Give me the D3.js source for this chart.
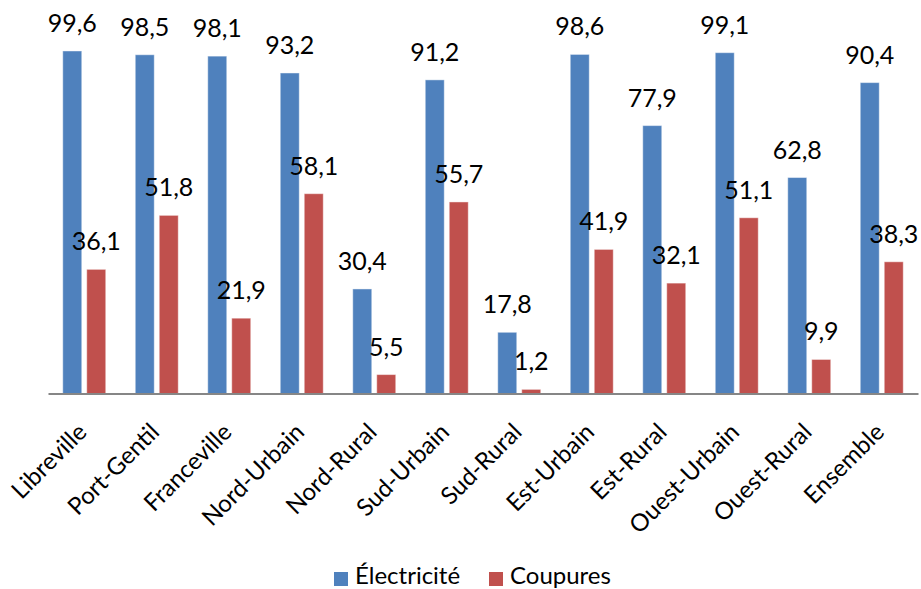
<!DOCTYPE html>
<html>
<head>
<meta charset="utf-8">
<script src="https://cdn.jsdelivr.net/npm/d3@7"></script>
<style>
  html, body { margin: 0; padding: 0; background: #fff; }
  svg { display: block; font-family: Lato, "Open Sans", sans-serif; }
</style>
</head>
<body>
<svg id="chart" width="921" height="589"></svg>
<script>
// Taux d'accès à l'électricité et part des ménages subissant des coupures (%)
const categories = ["Libreville", "Port-Gentil", "Franceville", "Nord-Urbain", "Nord-Rural",
  "Sud-Urbain", "Sud-Rural", "Est-Urbain", "Est-Rural", "Ouest-Urbain", "Ouest-Rural", "Ensemble"];
const electricite = [99.6, 98.5, 98.1, 93.2, 30.4, 91.2, 17.8, 98.6, 77.9, 99.1, 62.8, 90.4];
const coupures = [36.1, 51.8, 21.9, 58.1, 5.5, 55.7, 1.2, 41.9, 32.1, 51.1, 9.9, 38.3];
const seriesNames = ["Électricité", "Coupures"];
const seriesColors = ["#4F81BD", "#C0504D"];
const seriesValues = [electricite, coupures];

const svg = d3.select("#chart");
const plotLeft = 48, plotRight = 918, plotBase = 393.5, plotTop = 49.6;

const x0 = d3.scaleBand().domain(categories).range([plotLeft, plotRight]).paddingInner(0.407).paddingOuter(0.2035);
const x1 = d3.scaleBand().domain(seriesNames).range([0, x0.bandwidth()]).paddingInner(0.208);
const y = d3.scaleLinear().domain([0, 100]).range([plotBase, plotTop]);

const fmt = v => d3.format(".1f")(v).replace(".", ",");

const groups = svg.append("g").selectAll("g")
  .data(categories)
  .join("g")
  .attr("transform", d => `translate(${x0(d)},0)`);

seriesNames.forEach((name, si) => {
  groups.append("rect")
    .attr("x", x1(name))
    .attr("width", x1.bandwidth())
    .attr("y", (d, i) => y(seriesValues[si][i]))
    .attr("height", (d, i) => plotBase - y(seriesValues[si][i]))
    .attr("fill", seriesColors[si])
    .attr("stroke", "rgba(255,255,255,0.45)")
    .attr("stroke-width", 1);

  groups.append("text")
    .attr("x", x1(name) + x1.bandwidth() / 2)
    .attr("y", (d, i) => y(seriesValues[si][i]) - 19)
    .attr("text-anchor", "middle")
    .attr("font-size", 25)
    .attr("fill", "#000")
    .text((d, i) => fmt(seriesValues[si][i]));
});

// Category axis
const xAxis = svg.append("g").attr("transform", `translate(0,${plotBase})`)
  .call(d3.axisBottom(x0).tickSize(0).tickSizeOuter(0));
xAxis.select(".domain").attr("stroke", "#868686").attr("stroke-width", 2);
xAxis.selectAll(".tick text")
  .attr("font-family", "Lato, 'Open Sans', sans-serif")
  .attr("font-size", 24)
  .attr("fill", "#000")
  .attr("text-anchor", "end")
  .attr("dy", 0)
  .attr("y", 0)
  .attr("transform", "translate(4,40) rotate(-45)");

// Legend
const legend = svg.append("g");
const legendItems = [
  { name: seriesNames[0], color: seriesColors[0], sx: 334, tx: 355 },
  { name: seriesNames[1], color: seriesColors[1], sx: 489, tx: 510 }
];
legendItems.forEach(it => {
  legend.append("rect").attr("x", it.sx).attr("y", 572).attr("width", 14).attr("height", 14).attr("fill", it.color);
  legend.append("text").attr("x", it.tx).attr("y", 584).attr("font-size", 24).attr("fill", "#000").text(it.name);
});
</script>
</body>
</html>
